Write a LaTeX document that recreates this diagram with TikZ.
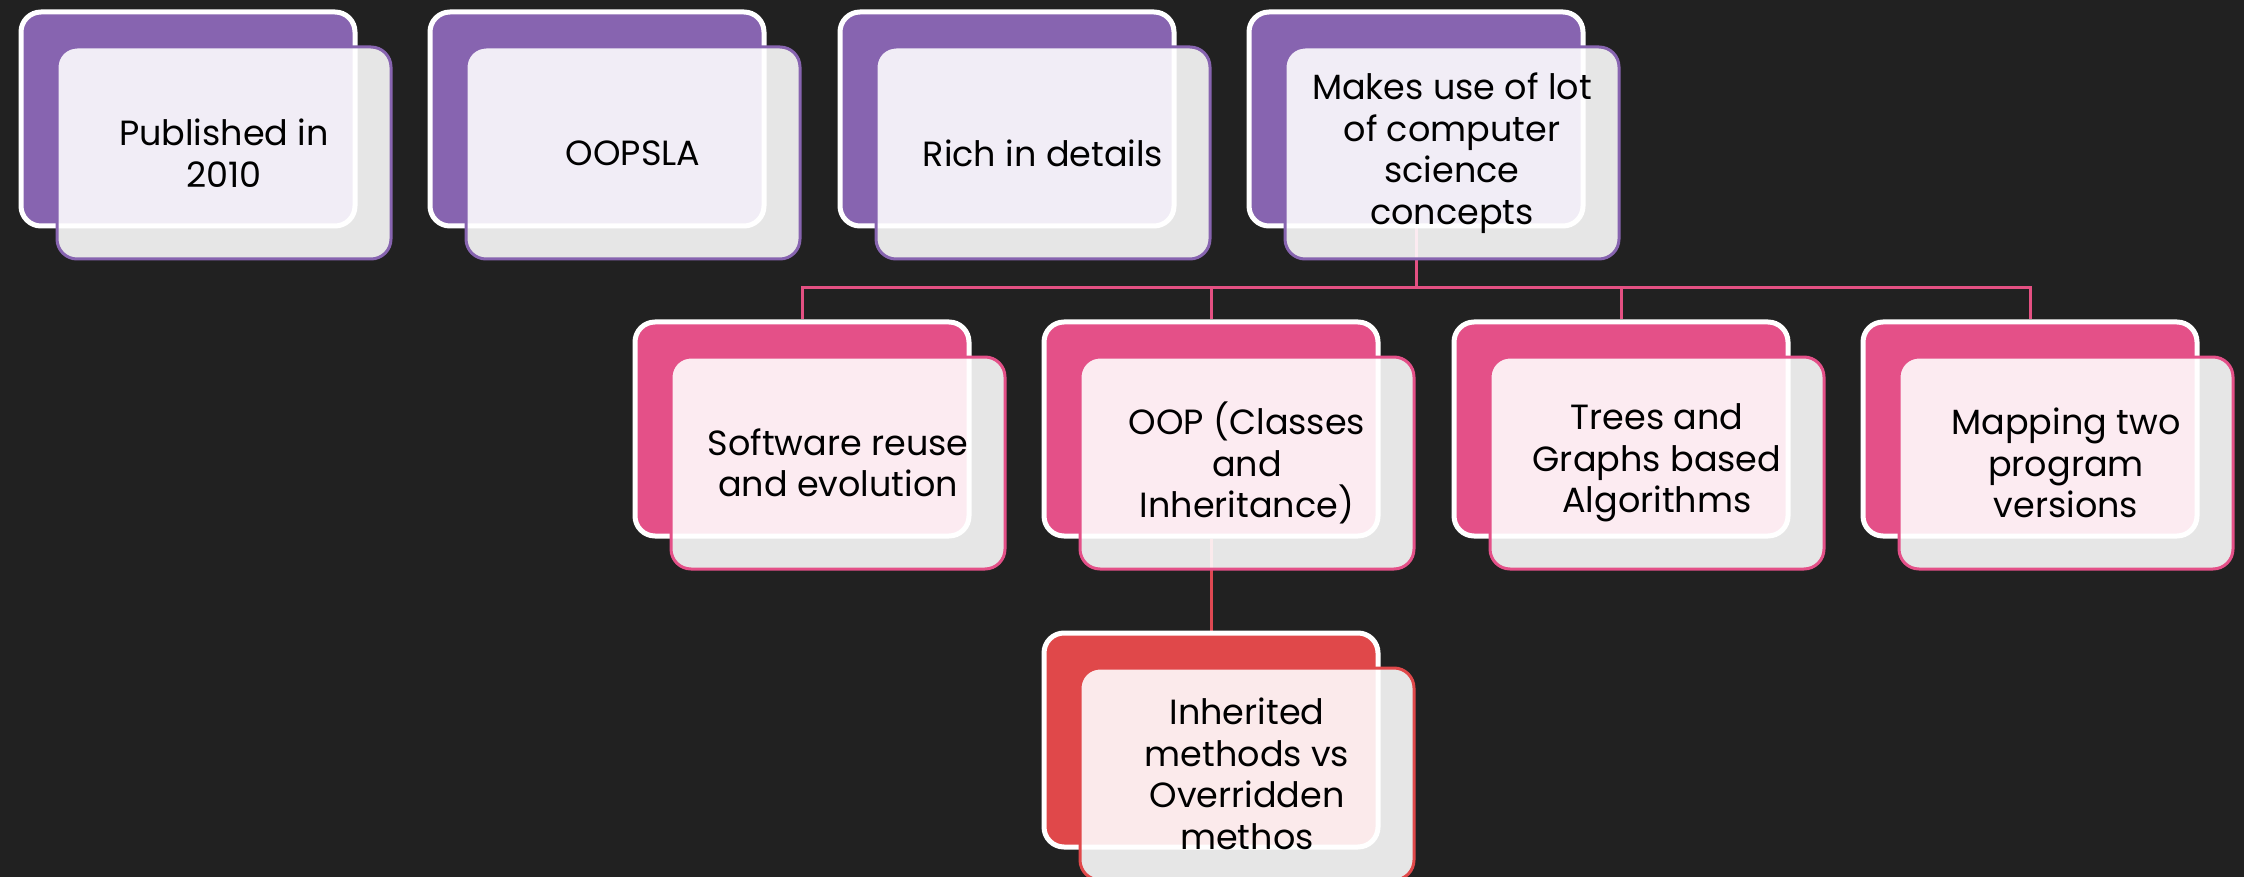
\documentclass[tikz,border=0pt]{standalone}
\usepackage{fontspec}
\setmainfont{Poppins}
\pgfdeclarelayer{backdrop}
\pgfdeclarelayer{links}
\pgfsetlayers{backdrop,links,main}
\definecolor{bg}{RGB}{33,33,33}
\definecolor{cpurple}{RGB}{135,100,176}
\definecolor{cpink}{RGB}{228,80,136}
\definecolor{cred}{RGB}{224,72,74}
\definecolor{lpink}{RGB}{228,80,130}
\definecolor{lred}{RGB}{222,72,82}
\tikzset{
  backbox/.style={draw=white, line width=5pt, rounded corners=20pt, minimum width=334pt, minimum height=214pt, inner sep=0pt, anchor=north west},
  frontbox/.style={fill=white, fill opacity=0.89, text opacity=1, line width=3pt, rounded corners=20pt, minimum width=334pt, minimum height=212pt, inner sep=0pt, anchor=north west, align=center, font=\fontsize{35}{41.5}\selectfont, text=black},
  conn/.style={line width=3pt},
}
\newcommand\boxpair[5]{%
  \node[backbox, fill=#4] (#1b) at ({#2+2.5},{#3+2.5}) {};
  \node[frontbox, draw=#4] (#1f) at ({#2+39.5},{#3+38.5}) {#5};
}
\begin{document}
\begin{tikzpicture}[x=1pt,y=-1pt]
\begin{pgfonlayer}{backdrop}
\fill[bg] (0,0) rectangle (2244,877);
\end{pgfonlayer}
\useasboundingbox (0,0) rectangle (2244,877);
\boxpair{a1}{16}{7}{cpurple}{Published in\\2010}
\boxpair{a2}{425}{7}{cpurple}{OOPSLA}
\boxpair{a3}{835}{7}{cpurple}{Rich in details}
\boxpair{a4}{1244}{7}{cpurple}{Makes use of lot\\of computer\\science\\concepts}
\boxpair{c1}{630}{317}{cpink}{Software reuse\\and evolution}
\boxpair{c2}{1039}{317}{cpink}{OOP (Classes\\and\\Inheritance)}
\boxpair{c3}{1449}{317}{cpink}{Trees and\\Graphs based\\Algorithms}
\boxpair{c4}{1858}{317}{cpink}{Mapping two\\program\\versions}
\boxpair{d1}{1039}{628}{cred}{Inherited\\methods vs\\Overridden\\methos}
\coordinate (bus) at (0,288);
\begin{pgfonlayer}{links}
\begin{scope}[conn, draw=lpink]
\draw (a4b.south) -- (a4b.south |- bus);
\draw (c1b.north) -- (c1b.north |- bus) -- (c4b.north |- bus) -- (c4b.north);
\draw (c2b.north) -- (c2b.north |- bus);
\draw (c3b.north) -- (c3b.north |- bus);
\end{scope}
\draw[conn, draw=lred] (c2b.south) -- (d1b.north);
\end{pgfonlayer}
\end{tikzpicture}
\end{document}
